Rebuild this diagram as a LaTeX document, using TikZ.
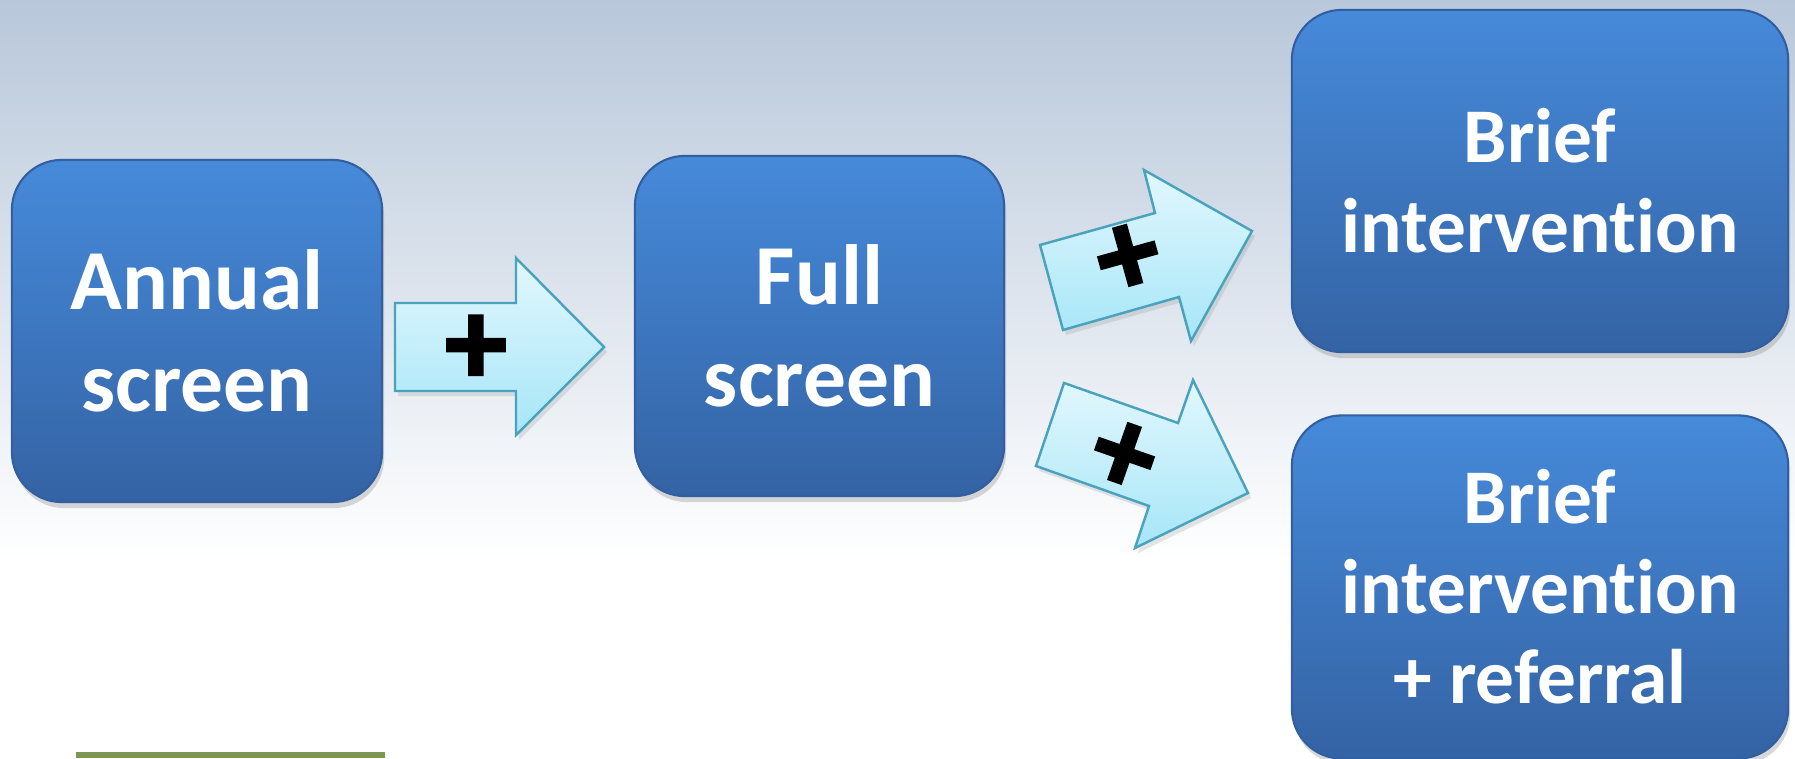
\documentclass[tikz,border=0pt]{standalone}
\usepackage{fontspec}
\setmainfont{Carlito}[Ligatures={NoCommon,NoContextual}]
\newfontfamily\plusfont{Carlito Bold}[FakeBold=2.5]
\usetikzlibrary{shadows}
\definecolor{bgtop}{RGB}{184,199,218}
\definecolor{boxtop}{RGB}{70,138,218}
\definecolor{boxbot}{RGB}{52,99,164}
\definecolor{boxline}{RGB}{50,95,160}
\definecolor{arrtop}{RGB}{226,247,253}
\definecolor{arrbot}{RGB}{166,230,248}
\definecolor{arrline}{RGB}{74,163,189}
\definecolor{barcol}{RGB}{125,151,82}
\tikzset{
  stagebox/.style={rounded corners=0.5cm, top color=boxtop, bottom color=boxbot,
    draw=boxline, line width=0.6pt, text=white, align=center,
    drop shadow={opacity=0.3, shadow xshift=0.02cm, shadow yshift=-0.06cm}},
  bigtext/.style={font=\bfseries\fontsize{24.3}{29}\selectfont},
  smalltext/.style={font=\bfseries\fontsize{22}{25.6}\selectfont},
  blockarrow/.style={top color=arrtop, bottom color=arrbot, draw=arrline, line width=0.7pt,
    line join=miter, drop shadow={opacity=0.2, shadow xshift=0.03cm, shadow yshift=-0.05cm}},
  plussign/.style={font=\plusfont\fontsize{35}{35}\selectfont, text=black, inner sep=0pt}
}
\begin{document}
\begin{tikzpicture}[x=0.01cm,y=-0.01cm]
\useasboundingbox (0,0) rectangle (1795,758);
% background
\fill[top color=bgtop, bottom color=white] (0,0) rectangle (1795,560);
\fill[white] (0,559) rectangle (1795,758);
% boxes
\node[stagebox, bigtext, minimum width=3.70cm, minimum height=3.42cm] (annual) at (197,331) {Annual\\screen};
\node[stagebox, bigtext, minimum width=3.69cm, minimum height=3.40cm] (full) at (819.5,326) {Full\\screen};
\node[stagebox, smalltext, minimum width=4.96cm, minimum height=3.42cm] (bi) at (1540,181) {Brief\\intervention};
\node[stagebox, smalltext, minimum width=4.96cm, minimum height=3.43cm] (bir) at (1540,587) {Brief\\intervention\\+ referral};
% block arrows
\path[blockarrow] (395,303) -- (516,303) -- (516,258) -- (604,347) -- (516,435) -- (516,391) -- (395,391) -- cycle;
\path[blockarrow] (1040,245) -- (1155,213) -- (1144,170) -- (1252,231) -- (1191,341) -- (1179,297) -- (1063,330) -- cycle;
\path[blockarrow] (1064,383) -- (1178,423) -- (1193,380) -- (1248,493) -- (1135,548) -- (1149,506) -- (1036,466) -- cycle;
\node[plussign] (p1) at (476,350) {+};
\node[plussign, rotate=15.5] (p2) at (1129,260) {+};
\node[plussign, rotate=-19.3] (p3) at (1123,458) {+};
% green bar
\fill[barcol] (76,752) rectangle (385,758);
\end{tikzpicture}
\end{document}
